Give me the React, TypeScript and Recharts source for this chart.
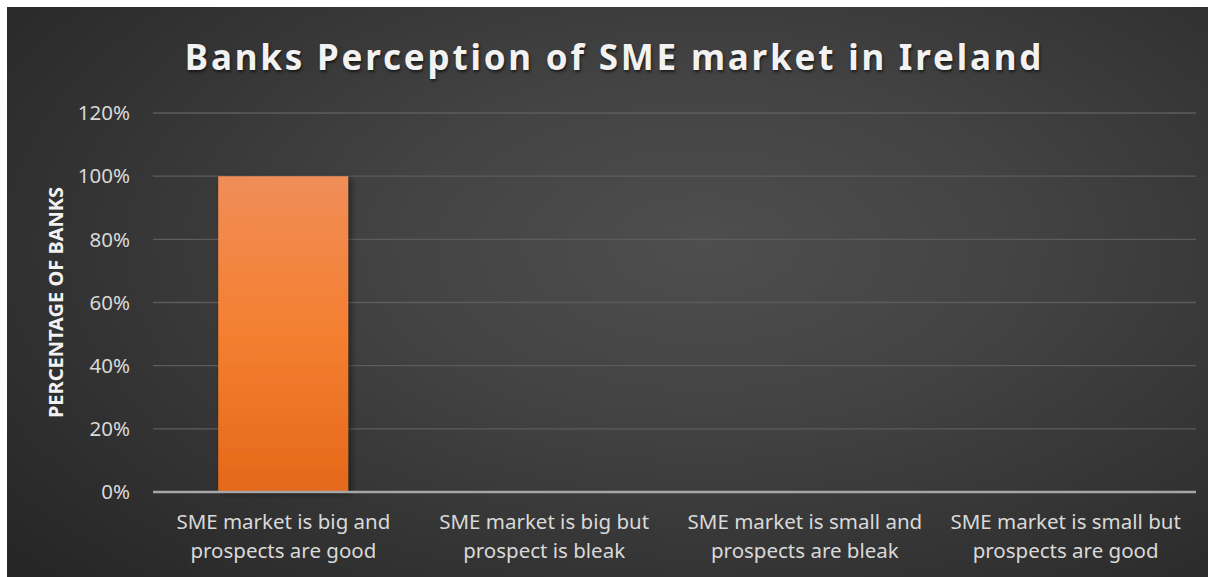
import React from 'react';
import { BarChart, Bar, XAxis, YAxis, CartesianGrid, Label } from 'recharts';

const categories = [
  'SME market is big and\nprospects are good',
  'SME market is big but\nprospect is bleak',
  'SME market is small and\nprospects are bleak',
  'SME market is small but\nprospects are good',
];
const percentages = [100, 0, 0, 0];
const yTicks = [0, 20, 40, 60, 80, 100, 120];
const title = 'Banks Perception of SME market in Ireland';
const yTitle = 'PERCENTAGE OF BANKS';

const data = categories.map((c, i) => ({ name: c, value: percentages[i] }));

const FONT = "'Noto Sans', 'Open Sans', sans-serif";

const XTick = (props: any) => {
  const { x, y, payload } = props;
  const lines = String(payload.value).split('\n');
  return (
    <g transform={`translate(${x},${y})`}>
      {lines.map((l: string, i: number) => (
        <text key={i} x={0} y={29 + i * 29} textAnchor="middle" fill="#d9d9d9" fontSize={20.5} fontFamily={FONT}>
          {l}
        </text>
      ))}
    </g>
  );
};

export default function App() {
  const W = 1201;
  const H = 570;
  return (
    <div
      style={{
        position: 'absolute',
        left: 7,
        top: 7,
        width: W,
        height: H,
        background: 'radial-gradient(ellipse 75% 85% at 58% 42%, #4e4e4e 0%, #434343 35%, #333333 70%, #262626 100%)',
        overflow: 'hidden',
      }}
    >
      <div
        style={{
          position: 'absolute',
          left: 7,
          top: 27,
          width: W,
          textAlign: 'center',
          fontFamily: FONT,
          fontWeight: 700,
          fontSize: 35,
          letterSpacing: 2.8,
          color: '#f2f2f2',
          textShadow: '1px 2px 3px rgba(0,0,0,0.6)',
          lineHeight: '46px',
        }}
      >
        {title}
      </div>
      <BarChart
        width={W}
        height={H}
        data={data}
        margin={{ top: 106, right: 12, bottom: 0, left: 0 }}
        barCategoryGap="25%"
        style={{ position: 'absolute', left: 0, top: 0 }}
      >
        <defs>
          <linearGradient id="barGrad" x1="0" y1="0" x2="0" y2="1">
            <stop offset="0%" stopColor="#f08d58" />
            <stop offset="50%" stopColor="#f47f30" />
            <stop offset="100%" stopColor="#e5681a" />
          </linearGradient>
          <filter id="barShadow" x="-10%" y="-10%" width="130%" height="130%">
            <feDropShadow dx="3" dy="2" stdDeviation="3" floodColor="#000" floodOpacity="0.45" />
          </filter>
        </defs>
        <CartesianGrid vertical={false} stroke="#5c5c5c" strokeWidth={1.3} />
        <XAxis
          dataKey="name"
          tick={<XTick />}
          tickLine={false}
          axisLine={{ stroke: '#a6a6a6', strokeWidth: 2.5 }}
          height={85}
          interval={0}
        />
        <YAxis
          domain={[0, 120]}
          ticks={yTicks}
          tickFormatter={(v: number) => `${v}%`}
          tick={{ fill: '#d9d9d9', fontSize: 20.5, fontFamily: FONT }}
          tickLine={false}
          axisLine={false}
          tickSize={0}
          tickMargin={23}
          width={146}
        >
          <Label
            content={(p: any) => {
              const vb = p.viewBox || {};
              const cx = (vb.x || 0) + 48;
              const cy = (vb.y || 0) + (vb.height || 0) / 2;
              return (
                <text
                  x={cx}
                  y={cy}
                  transform={`rotate(-90, ${cx}, ${cy})`}
                  textAnchor="middle"
                  dominantBaseline="central"
                  fill="#f2f2f2"
                  fontSize={20}
                  fontWeight={700}
                  fontFamily={FONT}
                >
                  {yTitle}
                </text>
              );
            }}
          />
        </YAxis>
        <Bar dataKey="value" fill="url(#barGrad)" filter="url(#barShadow)" isAnimationActive={false} />
      </BarChart>
    </div>
  );
}
